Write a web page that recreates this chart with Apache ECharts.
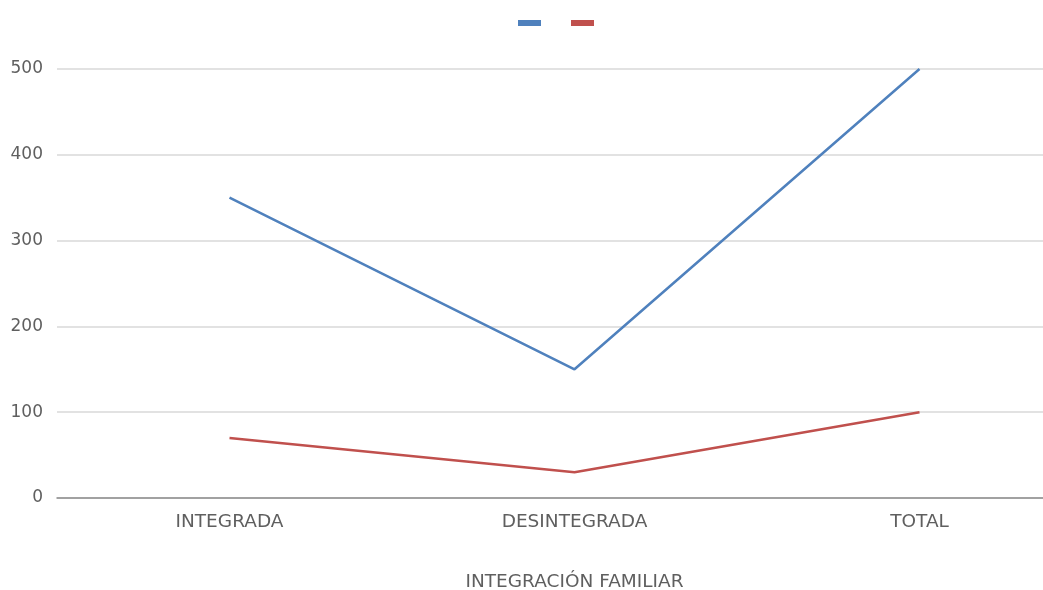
<!DOCTYPE html>
<html><head><meta charset="utf-8">
<script src="https://cdn.jsdelivr.net/npm/echarts@6/dist/echarts.min.js"></script>
<style>html,body{margin:0;padding:0;background:#fff;overflow:hidden}#c{width:1043px;height:590px}</style>
</head><body><div id="c"></div>
<script>
const categories = ['INTEGRADA', 'DESINTEGRADA', 'TOTAL'];
const seriesA = [350, 150, 500];
const seriesB = [70, 30, 100];
const yTicks = [0, 100, 200, 300, 400, 500];
const xName = 'INTEGRACIÓN FAMILIAR';

const chart = echarts.init(document.getElementById('c'));
chart.setOption({
  animation: false,
  textStyle: { fontFamily: 'DejaVu Sans' },
  legend: {
    top: 15, left: 513,
    icon: 'rect', itemWidth: 23, itemHeight: 6, itemGap: 30,
    formatter: () => '',
    data: ['A', 'B']
  },
  grid: { left: 57, top: 69, width: 1035, height: 429, containLabel: false, outerBoundsMode: 'none' },
  xAxis: {
    type: 'category', data: categories,
    name: xName, nameLocation: 'middle', nameGap: 75,
    nameTextStyle: { color: '#5f5f5f', fontSize: 18.5 },
    axisLine: { lineStyle: { color: '#8c8c8c', width: 1.5 } },
    axisTick: { show: false },
    axisLabel: { color: '#5f5f5f', fontSize: 18.5, margin: 15 }
  },
  yAxis: {
    type: 'value', min: yTicks[0], max: yTicks[yTicks.length - 1], interval: 100,
    axisLine: { show: false }, axisTick: { show: false },
    axisLabel: { color: '#5f5f5f', fontSize: 17, margin: 14 },
    splitLine: { lineStyle: { color: '#d9d9d9', width: 1.5 } }
  },
  series: [
    { name: 'A', type: 'line', data: seriesA, symbol: 'none', color: '#4f81bd', lineStyle: { width: 2.5, color: '#4f81bd' } },
    { name: 'B', type: 'line', data: seriesB, symbol: 'none', color: '#c0504d', lineStyle: { width: 2.5, color: '#c0504d' } }
  ]
});
</script></body></html>
